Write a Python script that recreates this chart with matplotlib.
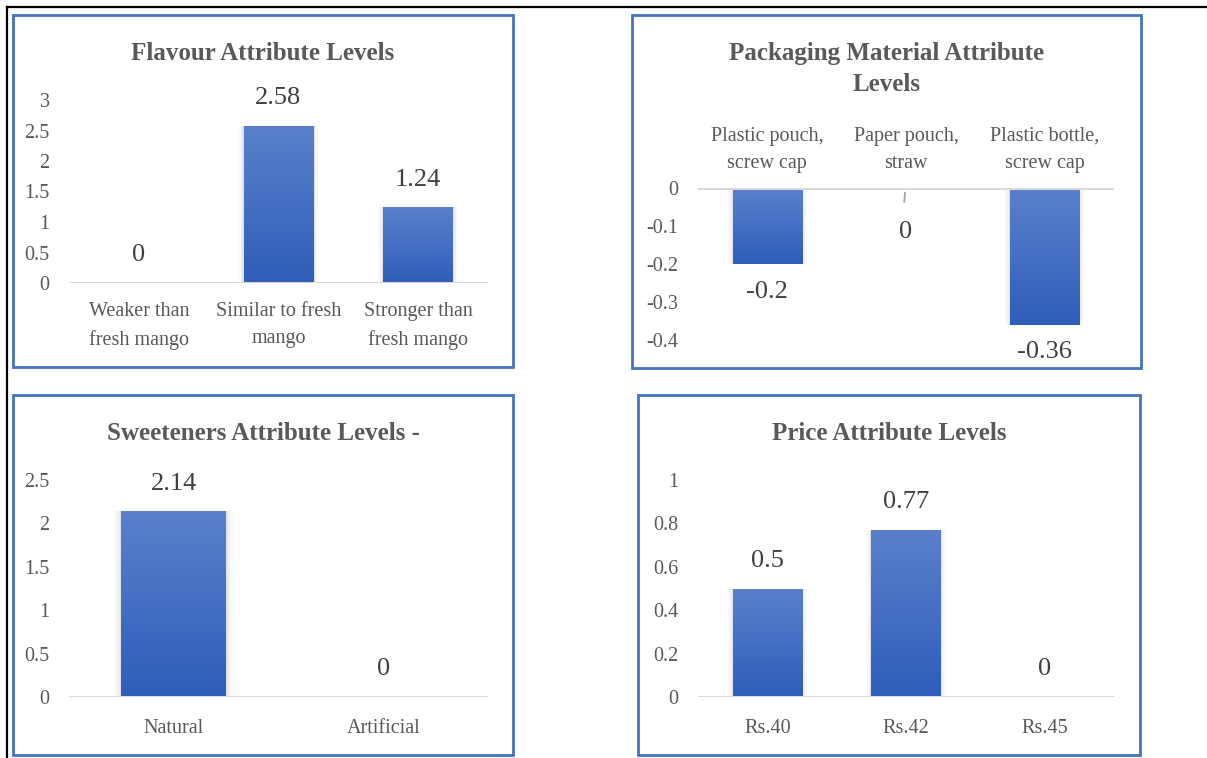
import matplotlib
matplotlib.use("Agg")
import matplotlib.pyplot as plt
import numpy as np
from matplotlib.patches import Rectangle
from matplotlib.lines import Line2D
from matplotlib.colors import LinearSegmentedColormap

plt.rcParams['font.family'] = ['Liberation Serif', 'DejaVu Serif']

# ---------------- data ----------------
flavour_cats = ["Weaker than\nfresh mango", "Similar to fresh\nmango", "Stronger than\nfresh mango"]
flavour_vals = [0, 2.58, 1.24]
flavour_ticks = [0, 0.5, 1, 1.5, 2, 2.5, 3]

pack_cats = ["Plastic pouch,\nscrew cap", "Paper pouch,\nstraw", "Plastic bottle,\nscrew cap"]
pack_vals = [-0.2, 0, -0.36]
pack_ticks = [0, -0.1, -0.2, -0.3, -0.4]

sweet_cats = ["Natural", "Artificial"]
sweet_vals = [2.14, 0]
sweet_ticks = [0, 0.5, 1, 1.5, 2, 2.5]

price_cats = ["Rs.40", "Rs.42", "Rs.45"]
price_vals = [0.5, 0.77, 0]
price_ticks = [0, 0.2, 0.4, 0.6, 0.8, 1]

# ---------------- layout helpers ----------------
W, H = 1207, 758
fig = plt.figure(figsize=(W / 100, H / 100), dpi=100)
fig.patch.set_facecolor("white")

def fx(x):
    return x / W

def fy(y):
    return 1 - y / H

def add_ax(x0, y0, x1, y1):
    return fig.add_axes([fx(x0), fy(y1), fx(x1) - fx(x0), fy(y0) - fy(y1)])

TXT = "#595959"
LBL = "#404040"
BORDER = "#4472C4"
cmap = LinearSegmentedColormap.from_list("g", ["#2E5EB9", "#5A80CC"])

# outer black frame lines (top and left)
fig.add_artist(Line2D([fx(7), fx(1207)], [fy(7), fy(7)], color="black", lw=1.6, transform=fig.transFigure))
fig.add_artist(Line2D([fx(7), fx(7)], [fy(7), fy(758)], color="black", lw=1.6, transform=fig.transFigure))

# panel borders
for (x0, y0, x1, y1) in [(13, 15, 513, 367), (632, 15, 1141, 368), (13, 395, 513, 755), (638, 395, 1140, 755)]:
    fig.add_artist(Rectangle((fx(x0), fy(y1)), fx(x1) - fx(x0), fy(y0) - fy(y1),
                             transform=fig.transFigure, fill=False, edgecolor=BORDER, lw=2.0))

def gradient_bars(ax, cats, vals, width=0.5):
    x = np.arange(len(cats))
    bars = ax.bar(x, vals, width=width, color="none", edgecolor="none", zorder=3)
    grad = np.linspace(0, 1, 256).reshape(-1, 1)
    for b, v in zip(bars, vals):
        bx, by = b.get_x(), b.get_y()
        bw, bh = b.get_width(), b.get_height()
        if v == 0:
            continue
        y_lo, y_hi = min(by, by + bh), max(by, by + bh)
        # soft shadow
        for k, a in [(0.035, 0.025), (0.02, 0.035), (0.008, 0.05)]:
            ax.add_patch(Rectangle((bx - k, y_lo), bw + 2 * k, y_hi - y_lo, facecolor="#000000",
                                   alpha=a, edgecolor="none", zorder=2))
        im = ax.imshow(grad, extent=[bx, bx + bw, y_lo, y_hi], origin="lower",
                       cmap=cmap, aspect="auto", zorder=3)
        im.set_clip_path(b)
    return bars

def style_ax(ax, ticks, ylim, n):
    ax.set_xlim(-0.5, n - 0.5)
    ax.set_ylim(*ylim)
    ax.set_yticks(ticks)
    ax.set_yticklabels([f"{t:g}" for t in ticks], fontsize=14.5, color=TXT)
    ax.tick_params(axis="y", length=0, pad=14)
    ax.tick_params(axis="x", length=0)
    for s in ax.spines.values():
        s.set_visible(False)
    ax.axhline(0, color="#D9D9D9", lw=2.2, zorder=4)
    ax.patch.set_alpha(0)

# ---------------- panel 1: Flavour ----------------
ax1 = add_ax(69, 100, 488, 283)
gradient_bars(ax1, flavour_cats, flavour_vals)
style_ax(ax1, flavour_ticks, (0, 3), 3)
ax1.set_xticks(range(3))
ax1.set_xticklabels(flavour_cats, fontsize=14.5, color=TXT, linespacing=1.55)
ax1.tick_params(axis="x", pad=14)
for i, v in enumerate(flavour_vals):
    ax1.annotate(f"{v:g}", (i, v), xytext=(0, 12), textcoords="offset points",
                 ha="center", va="bottom", fontsize=19, color=LBL)
fig.text(fx(263), fy(53), "Flavour Attribute Levels", ha="center", va="center",
         fontsize=18, fontweight="bold", color=TXT)

# ---------------- panel 2: Packaging ----------------
ax2 = add_ax(698, 188, 1114, 340)
gradient_bars(ax2, pack_cats, pack_vals)
style_ax(ax2, pack_ticks, (-0.4, 0), 3)
ax2.set_xticks([])
for i, c in enumerate(pack_cats):
    ax2.annotate(c, (i, 0), xytext=(0, 11), textcoords="offset points",
                 ha="center", va="bottom", fontsize=14.5, color=TXT, linespacing=1.55)
for i, v in enumerate(pack_vals):
    if v == 0:
        ax2.annotate(f"{v:g}", (i, 0), xytext=(0, -24), textcoords="offset points",
                     ha="center", va="top", fontsize=19, color=LBL)
        ax2.annotate("", (i - 0.005, -0.005), xytext=(i - 0.015, -0.045),
                     arrowprops=dict(arrowstyle="-", color="#A6A6A6", lw=1.3))
    else:
        ax2.annotate(f"{v:g}", (i, v), xytext=(0, -12), textcoords="offset points",
                     ha="center", va="top", fontsize=19, color=LBL, annotation_clip=False)
fig.text(fx(887), fy(69), "Packaging Material Attribute\nLevels", ha="center", va="center",
         fontsize=18, fontweight="bold", color=TXT, linespacing=1.4)

# ---------------- panel 3: Sweeteners ----------------
ax3 = add_ax(69, 480, 488, 697)
gradient_bars(ax3, sweet_cats, sweet_vals, width=0.5)
style_ax(ax3, sweet_ticks, (0, 2.5), 2)
ax3.set_xticks(range(2))
ax3.set_xticklabels(sweet_cats, fontsize=14.5, color=TXT)
ax3.tick_params(axis="x", pad=16)
for i, v in enumerate(sweet_vals):
    ax3.annotate(f"{v:g}", (i, v), xytext=(0, 12), textcoords="offset points",
                 ha="center", va="bottom", fontsize=19, color=LBL, annotation_clip=False)
fig.text(fx(263), fy(433), "Sweeteners Attribute Levels -", ha="center", va="center",
         fontsize=18, fontweight="bold", color=TXT)

# ---------------- panel 4: Price ----------------
ax4 = add_ax(698, 480, 1114, 697)
gradient_bars(ax4, price_cats, price_vals)
style_ax(ax4, price_ticks, (0, 1), 3)
ax4.set_xticks(range(3))
ax4.set_xticklabels(price_cats, fontsize=14.5, color=TXT)
ax4.tick_params(axis="x", pad=16)
for i, v in enumerate(price_vals):
    ax4.annotate(f"{v:g}", (i, v), xytext=(0, 12), textcoords="offset points",
                 ha="center", va="bottom", fontsize=19, color=LBL, annotation_clip=False)
fig.text(fx(889), fy(433), "Price Attribute Levels", ha="center", va="center",
         fontsize=18, fontweight="bold", color=TXT)

fig.savefig("out.png", dpi=100, facecolor="white")
